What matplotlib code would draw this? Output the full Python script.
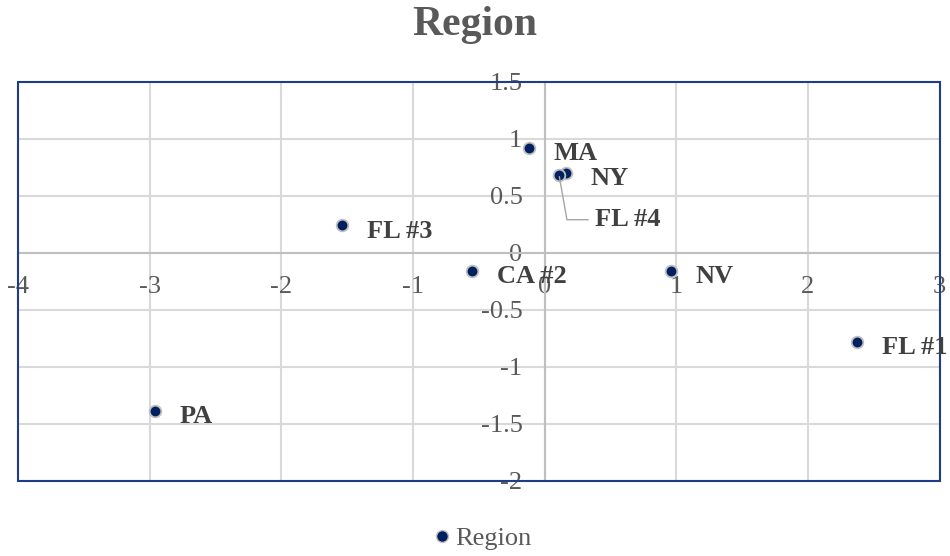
import matplotlib.pyplot as plt
from matplotlib.lines import Line2D
from matplotlib.patches import Rectangle

plt.rcParams["font.family"] = ["Liberation Serif", "DejaVu Serif"]

labels = ["MA", "NY", "FL #4", "FL #3", "CA #2", "NV", "FL #1", "PA"]
x_vals = [-0.12, 0.16, 0.11, -1.54, -0.55, 0.96, 2.37, -2.96]
y_vals = [0.92, 0.70, 0.68, 0.24, -0.16, -0.16, -0.78, -1.39]

x_ticks = [-4, -3, -2, -1, 0, 1, 2, 3]
y_ticks = [-2, -1.5, -1, -0.5, 0, 0.5, 1, 1.5]

navy = "#002060"
frame = "#1F3C88"
grid = "#D9D9D9"
zero_line = "#BFBFBF"
text_gray = "#595959"
label_gray = "#404040"

fig = plt.figure(figsize=(9.5, 5.56), dpi=100)
ax = fig.add_axes([0.019, 0.135, 0.970, 0.718])
ax.set_xlim(-4, 3)
ax.set_ylim(-2, 1.5)
ax.set_xticks(x_ticks)
ax.set_yticks(y_ticks)
ax.grid(True, color=grid, linewidth=1.5)
ax.set_axisbelow(True)

# axis lines cross at the origin, the outer box is drawn separately
for side in ("top", "right"):
    ax.spines[side].set_visible(False)
ax.spines["left"].set_position(("data", 0))
ax.spines["bottom"].set_position(("data", 0))
for side in ("left", "bottom"):
    ax.spines[side].set_color(zero_line)
    ax.spines[side].set_linewidth(1.5)

ax.set_xticklabels([f"{v:g}" for v in x_ticks])
ax.set_yticklabels([f"{v:g}" for v in y_ticks])
ax.tick_params(axis="x", length=0, pad=17, labelsize=19, labelcolor=text_gray)
ax.tick_params(axis="y", length=0, pad=16, labelsize=19, labelcolor=text_gray)

ax.add_patch(Rectangle((0, 0), 1, 1, transform=ax.transAxes, fill=False,
                       edgecolor=frame, linewidth=1.5, zorder=5, clip_on=False))

ax.scatter(x_vals, y_vals, s=70, color=navy, edgecolors="#BFBFBF",
           linewidths=1.3, zorder=4)

for name, x, y in zip(labels, x_vals, y_vals):
    if name == "FL #4":
        ax.annotate(name, (x, y), xytext=(26, -32), textcoords="offset points",
                    fontsize=19, fontweight="bold", color=label_gray,
                    va="center", ha="left", zorder=6,
                    arrowprops=dict(arrowstyle="-", color="#A6A6A6", lw=1.0,
                                    connectionstyle="angle,angleA=0,angleB=-80,rad=0",
                                    shrinkA=3, shrinkB=1))
    else:
        ax.annotate(name, (x, y), xytext=(18, -4), textcoords="offset points",
                    fontsize=19, fontweight="bold", color=label_gray,
                    va="center", ha="left", annotation_clip=False, zorder=6)

fig.text(0.5, 0.955, "Region", ha="center", va="center", fontsize=30,
         fontweight="bold", color=text_gray)

handle = Line2D([], [], marker="o", linestyle="none", markersize=8.5,
                markerfacecolor=navy, markeredgecolor="#BFBFBF")
fig.legend([handle], ["Region"], loc="center", bbox_to_anchor=(0.505, 0.032),
           frameon=False, fontsize=19, labelcolor=text_gray, handletextpad=0.0,
           handlelength=1.0)

fig.savefig("out.png", dpi=100)
